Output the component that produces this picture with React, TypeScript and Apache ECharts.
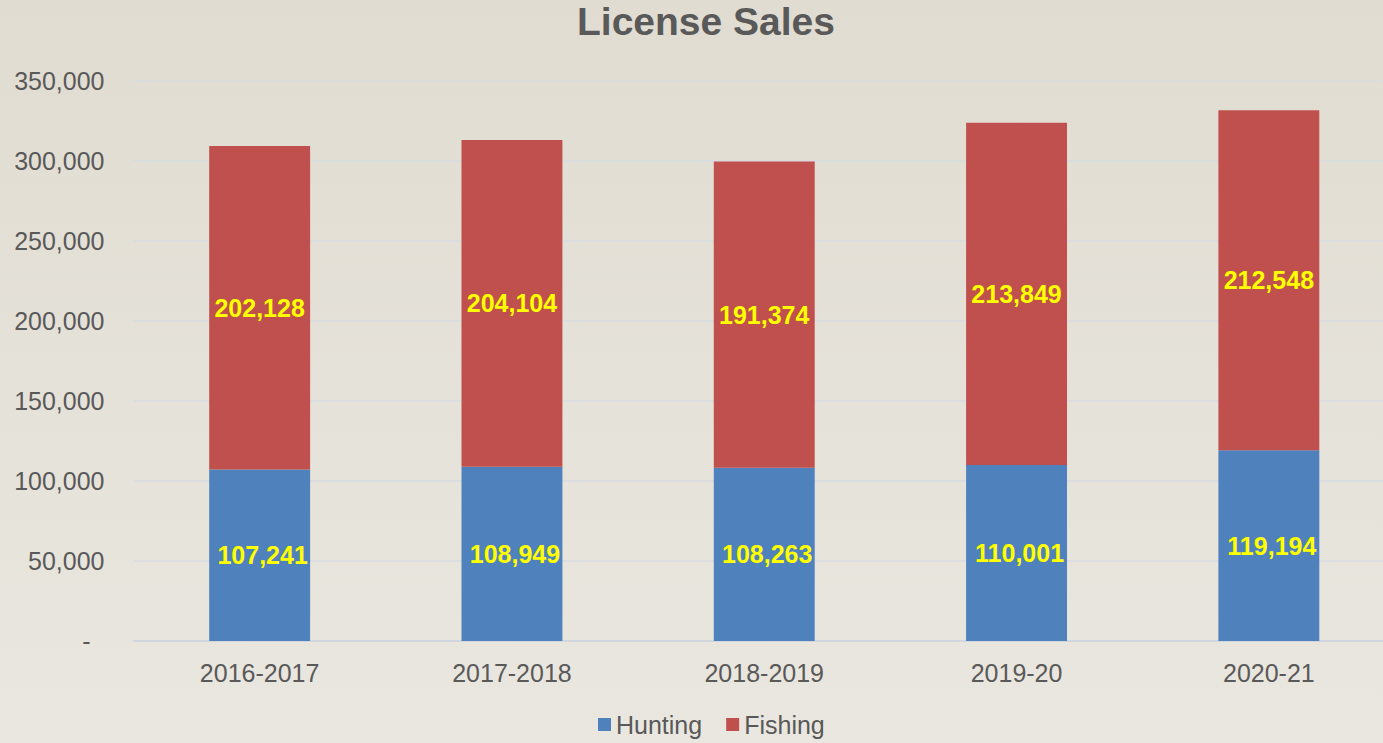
import React, { useEffect, useRef } from "react";
import * as echarts from "echarts";

const categories = ["2016-2017", "2017-2018", "2018-2019", "2019-20", "2020-21"];
const hunting = [107241, 108949, 108263, 110001, 119194];
const fishing = [202128, 204104, 191374, 213849, 212548];
const seriesNames = ["Hunting", "Fishing"];
const titleText = "License Sales";

const fmt = (v: number) => v.toLocaleString("en-US");

export default function App() {
  const ref = useRef<HTMLDivElement>(null);
  useEffect(() => {
    if (!ref.current) return;
    const chart = echarts.init(ref.current, null, { renderer: "svg" });
    const font = "'Liberation Sans', Arial, sans-serif";
    const labelStyle = {
      show: true,
      position: "inside" as const,
      color: "#ffff00",
      fontWeight: "bold" as const,
      fontSize: 25,
      fontFamily: font,
      formatter: (p: any) => fmt(p.value),
    };
    chart.setOption({
      animation: false,
      backgroundColor: {
        type: "linear",
        x: 0,
        y: 0,
        x2: 0,
        y2: 1,
        colorStops: [
          { offset: 0, color: "#e0dcd1" },
          { offset: 1, color: "#eae7e0" },
        ],
      },
      textStyle: { fontFamily: font },
      title: {
        text: titleText,
        left: 577,
        top: 2,
        padding: 0,
        textStyle: { fontSize: 39, fontWeight: "bold", color: "#595959", fontFamily: font },
      },
      legend: {
        left: 598,
        top: 712,
        padding: 0,
        itemWidth: 13,
        itemHeight: 13,
        itemGap: 24,
        icon: "rect",
        textStyle: { fontSize: 25, color: "#595959", fontFamily: font },
        data: seriesNames,
      },
      grid: { left: 133.5, right: 0, top: 81, bottom: 102, containLabel: false },
      xAxis: {
        type: "category",
        data: categories,
        axisTick: { show: false },
        axisLine: { lineStyle: { color: "#cdd3de", width: 1.5 } },
        axisLabel: { fontSize: 25, color: "#595959", margin: 19, fontFamily: font },
      },
      yAxis: {
        type: "value",
        min: 0,
        max: 350000,
        interval: 50000,
        axisLine: { show: false },
        axisTick: { show: false },
        splitLine: { lineStyle: { color: "#d8dbe2", width: 1.5 } },
        axisLabel: {
          fontSize: 25,
          color: "#595959",
          margin: 29,
          fontFamily: font,
          formatter: (v: number) => (v === 0 ? "{d|-}" : fmt(v)),
          rich: {
            d: { fontSize: 25, color: "#595959", padding: [0, 14, 0, 0], fontFamily: font },
          },
        },
      },
      series: [
        {
          name: seriesNames[0],
          type: "bar",
          stack: "total",
          data: hunting,
          barWidth: "40%",
          itemStyle: { color: "#4f81bd" },
          label: { ...labelStyle, offset: [3, 0] },
        },
        {
          name: seriesNames[1],
          type: "bar",
          stack: "total",
          data: fishing,
          barWidth: "40%",
          itemStyle: { color: "#c0504d" },
          label: labelStyle,
        },
      ],
    });
    return () => chart.dispose();
  }, []);
  return (
    <div
      style={{
        position: "fixed",
        left: 0,
        top: 0,
        width: 1383,
        height: 743,
        overflow: "hidden",
        background: "#e6e2da",
      }}
    >
      <div ref={ref} style={{ width: 1395, height: 743 }} />
    </div>
  );
}
